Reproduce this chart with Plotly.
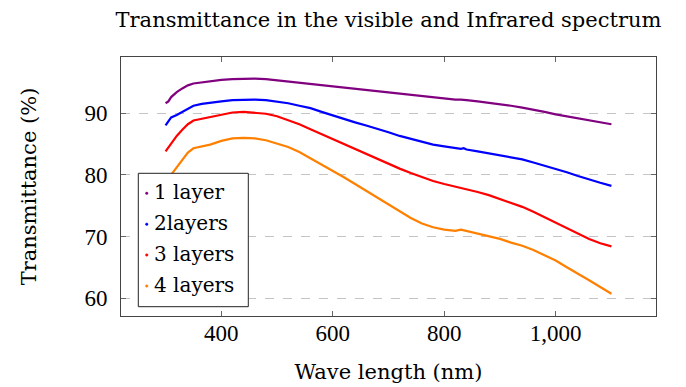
import plotly.graph_objects as go

wavelength = [300, 305, 310, 320, 330, 340, 350, 365, 380, 400, 420, 440, 460, 480, 500, 520, 540, 560, 580, 600, 620, 640, 660, 680, 700, 720, 740, 760, 780, 800, 820, 830, 835, 840, 860, 880, 900, 920, 940, 960, 980, 1000, 1020, 1040, 1060, 1080, 1100]

t1 = [91.6, 91.9, 92.6, 93.4, 94.0, 94.5, 94.8, 95.0, 95.2, 95.4, 95.5, 95.6, 95.6, 95.5, 95.3, 95.2, 95.0, 94.8, 94.6, 94.4, 94.2, 94.0, 93.8, 93.6, 93.4, 93.2, 93.0, 92.8, 92.6, 92.4, 92.2, 92.2, 92.2, 92.1, 91.9, 91.7, 91.5, 91.2, 90.9, 90.6, 90.2, 89.8, 89.5, 89.1, 88.8, 88.5, 88.2]
t2 = [88.0, 88.6, 89.3, 89.7, 90.2, 90.8, 91.2, 91.5, 91.7, 91.9, 92.1, 92.2, 92.2, 92.1, 91.9, 91.6, 91.2, 90.8, 90.2, 89.6, 89.1, 88.5, 88.0, 87.5, 86.9, 86.3, 85.8, 85.3, 84.9, 84.6, 84.3, 84.2, 84.3, 84.1, 83.8, 83.5, 83.2, 82.9, 82.5, 82.0, 81.5, 81.0, 80.4, 79.8, 79.2, 78.7, 78.2]
t3 = [83.8, 84.4, 85.2, 86.3, 87.3, 88.2, 88.8, 89.1, 89.4, 89.7, 90.1, 90.2, 90.1, 89.9, 89.5, 88.9, 88.2, 87.4, 86.6, 85.8, 85.0, 84.1, 83.3, 82.5, 81.7, 81.0, 80.3, 79.6, 79.0, 78.5, 78.1, 77.8, 77.8, 77.7, 77.2, 76.7, 76.1, 75.5, 74.8, 74.0, 73.1, 72.3, 71.4, 70.5, 69.6, 68.9, 68.4]
t4 = [78.8, 79.4, 80.0, 81.3, 82.5, 83.6, 84.3, 84.6, 84.9, 85.5, 85.9, 86.0, 85.9, 85.6, 85.1, 84.5, 83.7, 82.7, 81.7, 80.7, 79.6, 78.5, 77.4, 76.3, 75.1, 74.0, 73.0, 72.1, 71.5, 71.1, 70.9, 71.1, 71.0, 70.9, 70.4, 70.0, 69.6, 69.0, 68.5, 67.8, 67.0, 66.1, 65.0, 64.0, 62.9, 61.8, 60.7]

names = ["1 layer", "2layers", "3 layers", "4 layers"]
colors = ["#800080", "#0000ff", "#ff0000", "#ff8000"]
series = [t1, t2, t3, t4]

x_ticks = [400, 600, 800, 1000]
y_ticks = [60, 70, 80, 90]

TEXT_FONT = "DejaVu Serif"
NUM_FONT = "Liberation Serif"

# plot-area geometry (pixels) used to place the hand-built legend box
L, R, T, B = 121, 656, 57, 316
W, H = R - L, B - T


def px(x):
    return (x - L) / W


def py(y):
    return (B - y) / H


fig = go.Figure()
for name, color, ys in zip(names, colors, series):
    fig.add_trace(go.Scatter(x=wavelength, y=ys, mode="lines", name=name,
                             line=dict(color=color, width=2.2), showlegend=False,
                             hoverinfo="skip"))

# legend box (pgfplots style: small dot + label)
fig.add_shape(type="rect", xref="paper", yref="paper",
              x0=px(138.3), x1=px(248.3), y0=py(306.7), y1=py(173.3),
              line=dict(color="#222222", width=1), fillcolor="white", layer="above")
legend_rows = [193.3, 224.2, 255.0, 286.0]
for name, color, yy in zip(names, colors, legend_rows):
    fig.add_shape(type="circle", xref="paper", yref="paper",
                  x0=px(145.5), x1=px(148.0), y0=py(yy + 1.2), y1=py(yy - 1.2),
                  line=dict(color=color, width=0.5), fillcolor=color, layer="above")
    fig.add_annotation(xref="paper", yref="paper", x=px(152.0), y=py(yy - 1),
                       text=name, showarrow=False, xanchor="left", yanchor="middle",
                       font=dict(family=TEXT_FONT, size=20, color="black"))

axis_common = dict(showline=True, linecolor="#444444", linewidth=1, mirror="ticks",
                   ticks="inside", ticklen=5, tickcolor="#666666",
                   tickfont=dict(family=NUM_FONT, size=23, color="black"),
                   zeroline=False, automargin=False)

fig.update_layout(
    width=686, height=387,
    margin=dict(l=L, r=686 - R, t=T, b=387 - B),
    paper_bgcolor="white", plot_bgcolor="white",
    showlegend=False,
    title=dict(text="Transmittance in the visible and Infrared spectrum",
               font=dict(family=TEXT_FONT, size=21, color="black"),
               x=0.5, xanchor="center", xref="paper", y=1 - 20 / 387, yanchor="middle"),
    xaxis=dict(range=[220, 1180], tickvals=x_ticks, tickformat=",", showgrid=False,
               ticklabelstandoff=-4,
               title=dict(text="Wave length (nm)", font=dict(family=TEXT_FONT, size=21, color="black"), standoff=19),
               **axis_common),
    yaxis=dict(range=[57.1, 99.1], tickvals=y_ticks, showgrid=True, gridcolor="#c4c4c4",
               griddash="dash", gridwidth=1, ticklabelstandoff=8,
               title=dict(text="Transmittance (%)", font=dict(family=TEXT_FONT, size=21, color="black"), standoff=42),
               **axis_common),
)

fig.write_html("out.html", config={"displayModeBar": False},
               post_script="document.body.style.margin='0px';")
